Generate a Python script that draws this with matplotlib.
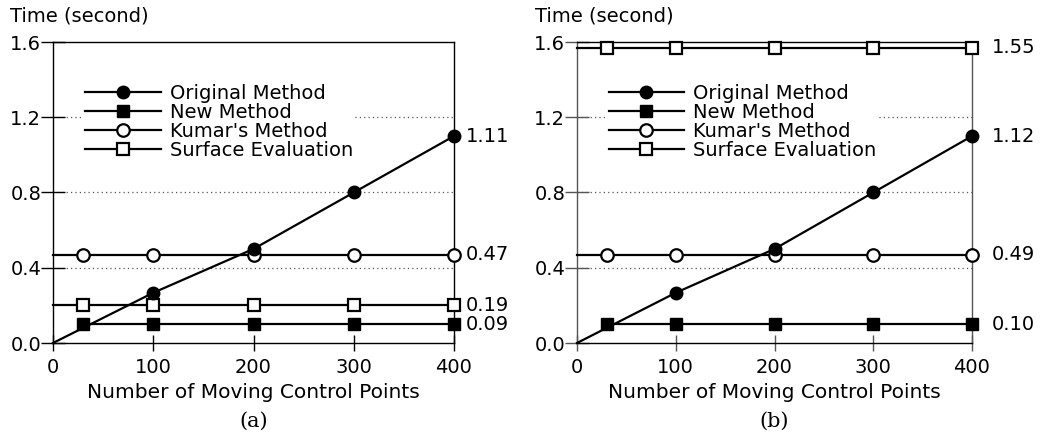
import matplotlib
matplotlib.use("Agg")
import matplotlib.pyplot as plt

# Data
x_orig = [0, 100, 200, 300, 400]
x_const = [0, 30, 100, 200, 300, 400]
x_new = [30, 100, 200, 300, 400]

orig_a = [0, 0.267, 0.50, 0.80, 1.10]
new_a = [0.10, 0.10, 0.10, 0.10, 0.10]
kumar_a = [0.47, 0.47, 0.47, 0.47, 0.47, 0.47]
surf_a = [0.20, 0.20, 0.20, 0.20, 0.20, 0.20]
labels_a = ["1.11", "0.09", "0.47", "0.19"]

orig_b = [0, 0.267, 0.50, 0.80, 1.10]
new_b = [0.10, 0.10, 0.10, 0.10, 0.10]
kumar_b = [0.47, 0.47, 0.47, 0.47, 0.47, 0.47]
surf_b = [1.57, 1.57, 1.57, 1.57, 1.57, 1.57]
labels_b = ["1.12", "0.10", "0.49", "1.55"]

names = ["Original Method", "New Method", "Kumar's Method", "Surface Evaluation"]
yticks = [0.0, 0.4, 0.8, 1.2, 1.6]
xticks = [0, 100, 200, 300, 400]

FS = 14
plt.rcParams['font.family'] = 'DejaVu Sans'

fig = plt.figure(figsize=(10.5, 4.44), dpi=100)
W, H = 1050, 444


def panel(left, right, orig, new, kumar, surf, labels, caption, frame_col, label_off):
    ax = fig.add_axes([left / W, 1 - 343 / H, (right - left) / W, (343 - 42) / H])
    lw = 1.6
    ms = 9
    l1, = ax.plot(x_orig, orig, color='black', lw=lw, marker='o', ms=ms,
                  markevery=slice(1, None), label=names[0], zorder=4, clip_on=False)
    l2, = ax.plot(x_new, new, color='black', lw=lw, marker='s', ms=ms,
                  label=names[1], zorder=4, clip_on=False)
    l3, = ax.plot(x_const, kumar, color='black', lw=lw, marker='o', ms=ms,
                  mfc='white', mew=1.6, markevery=slice(1, None), label=names[2],
                  zorder=3, clip_on=False)
    l4, = ax.plot(x_const, surf, color='black', lw=lw, marker='s', ms=ms,
                  mfc='white', mew=1.6, markevery=slice(1, None), label=names[3],
                  zorder=3, clip_on=False)

    ax.set_xlim(0, 400)
    ax.set_ylim(0, 1.6)
    ax.set_xticks(xticks)
    ax.set_yticks(yticks)
    ax.set_yticklabels(["%.1f" % v for v in yticks])
    ax.tick_params(axis='y', direction='inout', length=17, width=1, labelsize=FS,
                   pad=0, color=frame_col)
    ax.tick_params(axis='x', direction='inout', length=12, width=1, labelsize=FS,
                   pad=5, color=frame_col)
    for name, s in ax.spines.items():
        s.set_linewidth(1)
        if name in ('left', 'right'):
            s.set_color(frame_col)
    for v in yticks[1:-1]:
        ax.axhline(v, color='#555555', lw=0.9, ls=(0, (1, 2.5)), zorder=1)

    ax.set_xlabel("Number of Moving Control Points", fontsize=FS + 0.5, labelpad=4)
    ax.text(-0.107, 1.085, "Time (second)", transform=ax.transAxes, fontsize=FS,
            ha='left', va='center')

    last = [orig[-1], new[-1], kumar[-1], surf[-1]]
    for val, txt in zip(last, labels):
        ax.annotate(txt, xy=(400, val), xytext=(label_off, 0), textcoords='offset points',
                    fontsize=FS, va='center', ha='left', annotation_clip=False)

    leg = ax.legend(handles=[l1, l2, l3, l4], loc='upper left',
                    bbox_to_anchor=(0.075, 0.868), fontsize=FS, handlelength=3.9,
                    handletextpad=0.45, labelspacing=0.0, borderpad=0.1,
                    frameon=True, fancybox=False, borderaxespad=0)
    leg.get_frame().set_edgecolor('none')
    leg.get_frame().set_facecolor('white')
    leg.get_frame().set_alpha(1)
    leg.set_zorder(5)

    ax.text(0.5, -0.26, caption, transform=ax.transAxes, fontsize=FS + 1,
            family='DejaVu Serif', ha='center', va='center')
    return ax


panel(53, 454, orig_a, new_a, kumar_a, surf_a, labels_a, "(a)", 'black', 8.5)
panel(577, 972, orig_b, new_b, kumar_b, surf_b, labels_b, "(b)", '#555555', 14)

fig.savefig("out.png", dpi=100)
